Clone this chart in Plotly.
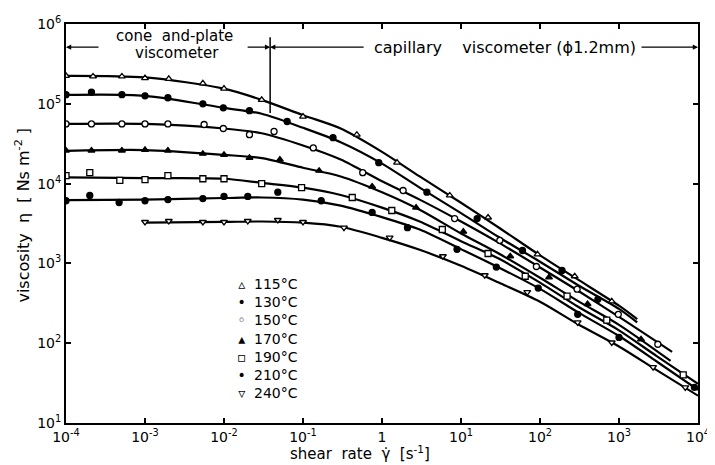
import plotly.graph_objects as go

# ---- data ----
temps = ["115°C", "130°C", "150°C", "170°C", "190°C", "210°C", "240°C"]
legend_glyphs = ["▵", "•", "◦", "▴", "▫", "•", "▿"]

# smooth fitted curves (shear rate [1/s], viscosity [Ns/m2])
line_x_115 = [1e-4, 1e-3, 1e-2, 3e-2, 0.1, 0.3, 1, 3, 10, 30, 100, 300, 1000, 1700]
line_eta_115 = [2.24e5, 2.14e5, 1.55e5, 1.12e5, 7.2e4, 4.9e4, 2.5e4, 1.23e4, 5.75e3, 2.82e3, 1.26e3, 630, 295, 200]
line_x_130 = [1e-4, 1e-3, 1e-2, 3e-2, 0.1, 0.3, 1, 3, 10, 30, 100, 300, 1000, 1700]
line_eta_130 = [1.29e5, 1.26e5, 8.9e4, 7.5e4, 5.0e4, 3.3e4, 1.78e4, 8.9e3, 4.27e3, 2.14e3, 1.05e3, 537, 269, 182]
line_x_150 = [1e-4, 1e-3, 1e-2, 3e-2, 0.1, 0.3, 1, 3, 10, 30, 100, 300, 1000, 4700]
line_eta_150 = [5.6e4, 5.6e4, 4.9e4, 4.27e4, 3.0e4, 2.0e4, 1.07e4, 6.3e3, 3.35e3, 1.82e3, 890, 457, 214, 78]
line_x_170 = [1e-4, 1e-3, 1e-2, 3e-2, 0.1, 0.3, 1, 3, 10, 30, 100, 300, 1000, 4500]
line_eta_170 = [2.57e4, 2.63e4, 2.29e4, 2.09e4, 1.58e4, 1.23e4, 7.8e3, 4.7e3, 2.37e3, 1.33e3, 660, 339, 170, 60]
line_x_190 = [1e-4, 1e-3, 1e-2, 3e-2, 0.1, 0.3, 1, 3, 10, 30, 100, 300, 1000, 3000, 1e4]
line_eta_190 = [1.2e4, 1.17e4, 1.15e4, 1.02e4, 8.9e3, 7.2e3, 5.0e3, 3.35e3, 1.9e3, 1.15e3, 575, 288, 145, 69, 31]
line_x_210 = [1e-4, 1e-3, 1e-2, 3e-2, 0.1, 0.3, 1, 3, 10, 30, 100, 300, 1000, 3000, 1e4]
line_eta_210 = [6.2e3, 6.3e3, 6.6e3, 6.7e3, 6.3e3, 5.3e3, 3.8e3, 2.66e3, 1.51e3, 890, 479, 245, 123, 59, 26]
line_x_240 = [1e-3, 1e-2, 3e-2, 0.1, 0.3, 1, 3, 10, 30, 100, 300, 1000, 3000, 1e4]
line_eta_240 = [3.24e3, 3.31e3, 3.35e3, 3.24e3, 2.88e3, 2.09e3, 1.48e3, 933, 575, 331, 174, 91, 46, 22]

# measured points
pt_x_115 = [1e-4, 2.2e-4, 5.1e-4, 1e-3, 2e-3, 5.4e-3, 1e-2, 3e-2, 0.1, 0.48, 1.55, 7.2, 22, 93, 275, 810]
pt_eta_115 = [2.24e5, 2.2e5, 2.2e5, 2.1e5, 2.05e5, 1.8e5, 1.55e5, 1.12e5, 6.9e4, 4.1e4, 1.83e4, 7.1e3, 3.76e3, 1.3e3, 690, 335]
pt_x_130 = [1e-4, 2.1e-4, 5.1e-4, 1e-3, 1.95e-3, 5.4e-3, 9.8e-3, 2.1e-2, 6.3e-2, 0.24, 0.91, 3.7, 16, 60, 190, 540]
pt_eta_130 = [1.3e5, 1.4e5, 1.3e5, 1.26e5, 1.19e5, 1.0e5, 8.9e4, 8.2e4, 6.0e4, 3.76e4, 1.83e4, 7.8e3, 3.65e3, 1.45e3, 815, 355]
pt_x_150 = [1e-4, 2.1e-4, 5.1e-4, 1e-3, 1.95e-3, 5.6e-3, 9.8e-3, 2.1e-2, 4.3e-2, 0.135, 0.57, 1.85, 8.3, 31, 90, 295, 980, 3100]
pt_eta_150 = [5.6e4, 5.6e4, 5.6e4, 5.6e4, 5.6e4, 5.5e4, 4.9e4, 4.1e4, 4.5e4, 2.8e4, 1.37e4, 8.2e3, 3.65e3, 1.94e3, 915, 475, 230, 97]
pt_x_170 = [1e-4, 2.1e-4, 5.1e-4, 1e-3, 1.95e-3, 5.4e-3, 1e-2, 2.1e-2, 5.1e-2, 0.16, 0.75, 2.7, 10.7, 42, 130, 400, 1900]
pt_eta_170 = [2.6e4, 2.6e4, 2.6e4, 2.65e4, 2.6e4, 2.37e4, 2.3e4, 2.1e4, 2.0e4, 1.45e4, 9.2e3, 5.0e3, 2.5e3, 1.23e3, 670, 310, 112]
pt_x_190 = [1e-4, 2e-4, 4.8e-4, 1e-3, 1.95e-3, 5.4e-3, 1e-2, 3e-2, 0.096, 0.42, 1.33, 5.8, 22, 65, 220, 700, 6500]
pt_eta_190 = [1.26e4, 1.37e4, 1.1e4, 1.12e4, 1.26e4, 1.15e4, 1.15e4, 1.0e4, 8.9e3, 6.7e3, 4.6e3, 2.66e3, 1.33e3, 690, 390, 195, 40]
pt_x_210 = [1e-4, 2e-4, 4.7e-4, 1e-3, 1.95e-3, 5.4e-3, 1e-2, 2e-2, 4.8e-2, 0.17, 0.75, 2.1, 8.9, 28, 95, 300, 1000, 9000]
pt_eta_210 = [6.1e3, 7.1e3, 5.8e3, 6.1e3, 6.3e3, 6.5e3, 6.9e3, 6.9e3, 7.8e3, 6.1e3, 4.35e3, 2.8e3, 1.5e3, 900, 490, 230, 118, 28]
pt_x_240 = [1e-3, 2e-3, 5.4e-3, 1e-2, 2e-2, 4.8e-2, 0.1, 0.33, 1.25, 5.9, 20, 69, 300, 810, 2700, 6900]
pt_eta_240 = [3.3e3, 3.4e3, 3.3e3, 3.3e3, 3.4e3, 3.5e3, 3.3e3, 2.8e3, 2.1e3, 1.23e3, 710, 437, 182, 102, 50, 28]

x_tickvals = [1e-4, 1e-3, 1e-2, 1e-1, 1, 10, 100, 1e3, 1e4]
x_ticktext = ["10<sup>-4</sup>", "10<sup>-3</sup>", "10<sup>-2</sup>", "10<sup>-1</sup>", "1",
              "10<sup>1</sup>", "10<sup>2</sup>", "10<sup>3</sup>", "10<sup>4</sup>"]
y_tickvals = [10, 100, 1e3, 1e4, 1e5, 1e6]
y_ticktext = ["10<sup>1</sup>", "10<sup>2</sup>", "10<sup>3</sup>", "10<sup>4</sup>",
              "10<sup>5</sup>", "10<sup>6</sup>"]

lines_x = [line_x_115, line_x_130, line_x_150, line_x_170, line_x_190, line_x_210, line_x_240]
lines_y = [line_eta_115, line_eta_130, line_eta_150, line_eta_170, line_eta_190, line_eta_210, line_eta_240]
pts_x = [pt_x_115, pt_x_130, pt_x_150, pt_x_170, pt_x_190, pt_x_210, pt_x_240]
pts_y = [pt_eta_115, pt_eta_130, pt_eta_150, pt_eta_170, pt_eta_190, pt_eta_210, pt_eta_240]

symbols = ["triangle-up", "circle", "circle", "triangle-up", "square", "circle", "triangle-down"]
fills = ["white", "black", "white", "black", "white", "black", "white"]

FONT = "DejaVu Sans"
fig = go.Figure()

for lx, ly in zip(lines_x, lines_y):
    fig.add_trace(go.Scatter(x=lx, y=ly, mode="lines",
                             line=dict(color="black", width=2.2, shape="spline", smoothing=0.8),
                             showlegend=False, hoverinfo="skip"))

for name, px, py, sym, fc in zip(temps, pts_x, pts_y, symbols, fills):
    fig.add_trace(go.Scatter(x=px, y=py, mode="markers", name=name, showlegend=False,
                             marker=dict(symbol=sym, size=6, color=fc,
                                         line=dict(color="black", width=1.3))))

axis_common = dict(type="log", showline=True, linecolor="black", linewidth=2, mirror="ticks",
                   ticks="inside", ticklen=5, tickwidth=1.5, tickcolor="black",
                   showgrid=False, zeroline=False, automargin=False,
                   tickfont=dict(family=FONT, size=14, color="black"))

fig.update_xaxes(range=[-4, 4], tickvals=x_tickvals, ticktext=x_ticktext, **axis_common)
fig.update_yaxes(range=[1, 6], tickvals=y_tickvals, ticktext=y_ticktext, **axis_common)

ann = []
txt = dict(family=FONT, size=15, color="black")
mid = dict(xref="paper", yref="paper", xanchor="center", yanchor="middle", showarrow=False)
ann.append(dict(x=0.172, y=0.970, text="cone  and-plate", font=txt, **mid))
ann.append(dict(x=0.175, y=0.927, text="viscometer", font=txt, **mid))
ann.append(dict(x=0.695, y=0.942,
                text="capillary&nbsp;&nbsp;&nbsp;&nbsp;viscometer (ϕ1.2mm)",
                font=dict(family=FONT, size=16, color="black"), **mid))
# arrows of the measuring ranges
arrow = dict(xref="paper", yref="paper", text="", showarrow=True, arrowhead=2,
             arrowsize=0.8, arrowwidth=1.3, arrowcolor="black", ay=0)
ann.append(dict(x=0.0, y=0.942, ax=34, **arrow))
ann.append(dict(x=0.323, y=0.942, ax=-24, **arrow))
ann.append(dict(x=0.323, y=0.942, ax=95, **arrow))
ann.append(dict(x=1.0, y=0.942, ax=-58, **arrow))
# axis titles
ann.append(dict(x=-0.068, y=0.52, textangle=-90,
                text="viscosity  η  [ Ns m<sup>-2</sup> ]",
                font=dict(family=FONT, size=16, color="black"), **mid))
ann.append(dict(x=0.465, y=-0.075,
                text="shear  rate  γ̇  [s<sup>-1</sup>]",
                font=dict(family=FONT, size=15, color="black"), **mid))
# legend (symbol column + label column)
ann.append(dict(x=0.279, y=0.373, xref="paper", yref="paper", xanchor="center", yanchor="top",
                align="center", showarrow=False, text="<br>".join(legend_glyphs),
                font=dict(family=FONT, size=14, color="black")))
ann.append(dict(x=0.295, y=0.373, xref="paper", yref="paper", xanchor="left", yanchor="top",
                align="left", showarrow=False, text="<br>".join(temps),
                font=dict(family=FONT, size=14, color="black")))
fig.update_layout(annotations=ann)

fig.add_shape(type="line", xref="paper", yref="paper", x0=0.323, x1=0.323, y0=0.777, y1=0.967,
              line=dict(color="black", width=1.5))

# page body has an 8px margin, so the figure is sized/offset to land the axes where the reference has them
fig.update_layout(
    width=707, height=457,
    margin=dict(l=58, r=17, t=16, b=42),
    paper_bgcolor="white", plot_bgcolor="white",
    font=dict(family=FONT, size=14, color="black"),
    showlegend=False,
)

fig.write_html("out.html")
